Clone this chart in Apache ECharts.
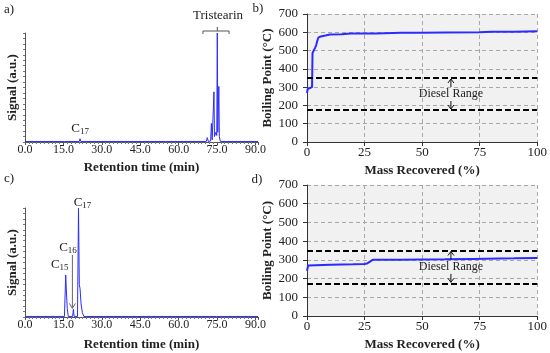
<!DOCTYPE html>
<html><head><meta charset="utf-8">
<script src="https://cdn.jsdelivr.net/npm/echarts@6/dist/echarts.min.js"></script>
<style>html,body{margin:0;padding:0;background:#fff}#c{width:550px;height:353px}</style>
</head><body><div id="c"></div>
<script>
// ---- Panel a: chromatogram (retention time in min, normalised signal)
const timeA   = [0, 15.5, 21.2, 21.5, 21.8, 54.8, 55.1, 55.4, 57.8, 58.1, 58.4, 70.8, 71.2, 71.6, 72.5, 72.8, 73.1, 73.5, 73.8, 74.0, 74.3, 74.6, 74.9, 75.1, 75.3, 75.5, 75.7, 75.9, 76.3, 91];
const signalA = [0.005, 0.005, 0.005, 0.03, 0.005, 0.005, 0.015, 0.005, 0.005, 0.01, 0.005, 0.005, 0.04, 0.005, 0.01, 0.17, 0.02, 0.02, 0.46, 0.05, 0.07, 0.09, 0.06, 1.0, 0.09, 0.1, 0.51, 0.05, 0.005, 0.005];
// ---- Panel c: chromatogram
const timeC   = [0, 15.4, 15.9, 16.2, 16.5, 16.9, 18.6, 18.9, 19.2, 20.5, 20.9, 21.2, 21.5, 21.9, 22.4, 23.0, 74.7, 75.0, 75.3, 91];
const signalC = [0.005, 0.005, 0.385, 0.22, 0.08, 0.005, 0.005, 0.07, 0.005, 0.005, 1.0, 0.3, 0.26, 0.12, 0.04, 0.005, 0.005, 0.012, 0.005, 0.005];
// ---- Panel b: simulated distillation (mass recovered %, boiling point °C)
const massB = [0, 0.3, 0.5, 2.2, 2.4, 3.0, 3.5, 4.0, 4.5, 5.0, 6.0, 8, 10, 15, 19, 25, 30, 41, 50, 60, 75, 80, 90, 100];
const bpB   = [268, 290, 300, 300, 487, 495, 515, 530, 555, 572, 577, 582, 588, 589, 593, 593, 594, 597, 598, 599, 600, 603, 603, 605];
// ---- Panel d
const massD = [0, 0.5, 1, 10, 20, 25, 26, 26.5, 27.5, 28.5, 40, 50, 60, 72, 90, 100];
const bpD   = [242, 270, 272, 274, 276, 278, 280, 288, 292, 300, 301, 302, 303, 305, 308, 310];
// ---- Diesel range limits and ticks
const dieselRange = [175, 350];
const timeTicks = [0, 15, 30, 45, 60, 75, 90];
const massTicks = [0, 25, 50, 75, 100];
const bpTicks = [0, 100, 200, 300, 400, 500, 600, 700];

const zip = (a, b) => a.map((v, i) => [v, b[i]]);
const FONT = 'Liberation Serif';
const BLUE = '#2b2bff';
const chart = echarts.init(document.getElementById('c'), null, {renderer: 'canvas'});

function chromX(gi, showName) {
  return {
    gridIndex: gi, type: 'value', min: 0, max: 91, interval: 15,
    axisLine: {lineStyle: {color: '#555', width: 1}},
    axisTick: {show: true, length: 3, lineStyle: {color: '#555'}},
    minorTick: {show: true, splitNumber: 10, length: 2, lineStyle: {color: '#777'}},
    splitLine: {show: false},
    axisLabel: {fontFamily: FONT, fontSize: 12, color: '#222', margin: 2,
      formatter: v => (timeTicks.indexOf(v) >= 0 ? v.toFixed(1) : '')},
    name: 'Retention time (min)', nameLocation: 'middle', nameGap: showName,
    nameTextStyle: {fontFamily: FONT, fontWeight: 'bold', fontSize: 13, color: '#222'}
  };
}
function chromY(gi) {
  return {
    gridIndex: gi, type: 'value', min: 0, max: 1, interval: 0.05,
    axisLine: {show: true, lineStyle: {color: '#555', width: 1}},
    axisTick: {show: true, length: 2, lineStyle: {color: '#777'}},
    axisLabel: {show: false}, splitLine: {show: false},
    name: 'Signal (a.u.)', nameLocation: 'middle', nameGap: 6,
    nameTextStyle: {fontFamily: FONT, fontWeight: 'bold', fontSize: 13, color: '#222'}
  };
}
function distX(gi, gap) {
  return {
    gridIndex: gi, type: 'value', min: 0, max: 100, interval: 25,
    axisLine: {lineStyle: {color: '#333', width: 1}},
    axisTick: {show: true, length: 4, lineStyle: {color: '#333'}},
    splitLine: {show: true, lineStyle: {color: '#a8a8a8', type: [4, 3], width: 1}},
    axisLabel: {fontFamily: FONT, fontSize: 13, color: '#222', margin: 4},
    name: 'Mass Recovered (%)', nameLocation: 'middle', nameGap: gap,
    nameTextStyle: {fontFamily: FONT, fontWeight: 'bold', fontSize: 13, color: '#222'}
  };
}
function distY(gi) {
  return {
    gridIndex: gi, type: 'value', min: 0, max: 700, interval: 100,
    axisLine: {show: true, lineStyle: {color: '#333', width: 1}},
    axisTick: {show: true, length: 4, lineStyle: {color: '#333'}},
    splitLine: {show: true, lineStyle: {color: '#a8a8a8', type: [4, 3], width: 1}},
    axisLabel: {fontFamily: FONT, fontSize: 13, color: '#222', margin: 9},
    name: 'Boiling Point (°C)', nameLocation: 'middle', nameGap: 32,
    nameTextStyle: {fontFamily: FONT, fontWeight: 'bold', fontSize: 13, color: '#222'}
  };
}
const dieselMark = {
  silent: true, symbol: 'none', label: {show: false},
  lineStyle: {color: '#000', type: [6, 3], width: 2},
  data: dieselRange.map(v => ({yAxis: v}))
};

chart.setOption({
  animation: false,
  backgroundColor: '#fff',
  grid: [
    {left: 25, top: 33, width: 233, height: 109},
    {left: 307, top: 14, width: 231, height: 128, show: true, backgroundColor: '#f1f1f1', borderWidth: 0},
    {left: 25, top: 208, width: 233, height: 109},
    {left: 307, top: 185, width: 231, height: 131, show: true, backgroundColor: '#f1f1f1', borderWidth: 0}
  ],
  xAxis: [chromX(0, 19), distX(1, 22), chromX(2, 21), distX(3, 22)],
  yAxis: [chromY(0), distY(1), chromY(2), distY(3)],
  series: [
    {type: 'line', xAxisIndex: 0, yAxisIndex: 0, data: zip(timeA, signalA), showSymbol: false,
      lineStyle: {color: BLUE, width: 1}, z: 3},
    {type: 'line', xAxisIndex: 1, yAxisIndex: 1, data: zip(massB, bpB), showSymbol: false,
      lineStyle: {color: BLUE, width: 2}, markLine: dieselMark, z: 3},
    {type: 'line', xAxisIndex: 2, yAxisIndex: 2, data: zip(timeC, signalC), showSymbol: false,
      lineStyle: {color: BLUE, width: 1}, z: 3},
    {type: 'line', xAxisIndex: 3, yAxisIndex: 3, data: zip(massD, bpD), showSymbol: false,
      lineStyle: {color: BLUE, width: 2}, markLine: dieselMark, z: 3}
  ]
});

// ---- annotations placed through the axes
const P = (gi, x, y) => chart.convertToPixel({gridIndex: gi}, [x, y]);
const g = [];
const txt = (x, y, text, opts) => g.push(Object.assign({type: 'text', x, y, z: 10,
  style: Object.assign({text, font: '13px "' + FONT + '"', fill: '#222', align: 'center', verticalAlign: 'middle'}, opts || {})}));
const line = (pts, color, w) => g.push({type: 'polyline', z: 10, shape: {points: pts}, style: {stroke: color, lineWidth: w || 1, fill: null}});
const sub = (n) => ({text: '{a|C}{s|' + n + '}', rich: {a: {font: '13px "' + FONT + '"', fill: '#222'}, s: {font: '9px "' + FONT + '"', fill: '#222', verticalAlign: 'bottom', padding: [6, 0, 0, 0]}}});

// panel letters
txt(9, 10, 'a)'); txt(258, 9, 'b)'); txt(9, 179, 'c)'); txt(257, 180, 'd)');

// panel a: Tristearin bracket
const bL = P(0, 69.5, 1), bR = P(0, 79.7, 1), bC = P(0, 75.1, 1);
const by = bL[1] - 2;
line([[bL[0], by + 3], [bL[0], by], [bR[0], by], [bR[0], by + 3]], '#555', 1);
line([[bC[0], by], [bC[0], by - 4]], '#555', 1);
txt(218, 16, 'Tristearin');
// C17 in a
const c17a = P(0, 21.5, 0.03);
g.push({type: 'text', x: c17a[0], y: c17a[1] - 10, z: 10, style: Object.assign({align: 'center', verticalAlign: 'middle'}, sub(17))});

// panel c labels
const c15 = P(2, 15.9, 0.385), c16 = P(2, 18.9, 0.07), c17 = P(2, 20.9, 1.0);
g.push({type: 'text', x: c15[0] - 6, y: c15[1] - 10, z: 10, style: Object.assign({align: 'center', verticalAlign: 'middle'}, sub(15))});
g.push({type: 'text', x: 68, y: 248, z: 10, style: Object.assign({align: 'center', verticalAlign: 'middle'}, sub(16))});
g.push({type: 'text', x: c17[0] + 4, y: c17[1] - 5, z: 10, style: Object.assign({align: 'center', verticalAlign: 'middle'}, sub(17))});
// C16 arrow
const ax = c16[0] - 1;
line([[ax, 255], [ax, c16[1] - 1]], '#666', 1);
line([[ax - 3, c16[1] - 6], [ax, c16[1] - 1], [ax + 3, c16[1] - 6]], '#666', 1);

// Diesel range labels and arrows
[1, 3].forEach(gi => {
  const top = P(gi, 62.5, dieselRange[1]), bot = P(gi, 62.5, dieselRange[0]);
  const mid = (top[1] + bot[1]) / 2;
  txt(top[0], mid, 'Diesel Range', {font: '12px "' + FONT + '"', fill: '#222', backgroundColor: 'rgba(241,241,241,0.01)'});
  line([[top[0], mid - 7], [top[0], top[1] + 1]], '#111', 1);
  line([[top[0] - 3, top[1] + 5], [top[0], top[1] + 1], [top[0] + 3, top[1] + 5]], '#111', 1);
  line([[bot[0], mid + 7], [bot[0], bot[1] - 1]], '#111', 1);
  line([[bot[0] - 3, bot[1] - 5], [bot[0], bot[1] - 1], [bot[0] + 3, bot[1] - 5]], '#111', 1);
});
chart.setOption({graphic: g});
</script>
</body></html>
